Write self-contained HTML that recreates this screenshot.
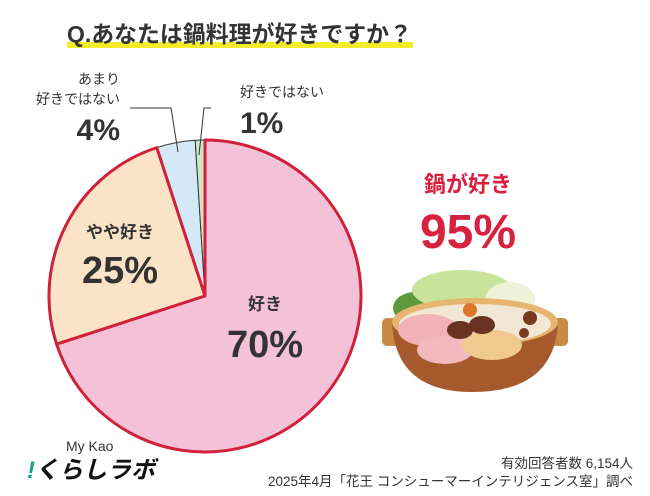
<!DOCTYPE html>
<html><head><meta charset="utf-8"><style>
html,body{margin:0;padding:0;background:#fff;}
body{width:650px;height:496px;overflow:hidden;position:relative;font-family:"Liberation Sans","Noto Sans CJK JP",sans-serif;}
svg{position:absolute;left:0;top:0;}
</style></head><body>
<svg width="650" height="496" viewBox="0 0 650 496">
  <rect x="67" y="42" width="346" height="6" fill="#f3ec2a"/>
  <text x="67" y="42" font-size="23" font-weight="bold" fill="#333" textLength="345" lengthAdjust="spacingAndGlyphs" font-family="Liberation Sans, Noto Sans CJK JP, sans-serif">Q.あなたは鍋料理が好きですか？</text>
  <g id="slices"></g>
  <g id="leaders" stroke="#333" stroke-width="1" fill="none">
    <polyline points="130,108 171,108 178,152"/>
    <polyline points="211,108 204,108 199,155"/>
  </g>
  <g font-family="Liberation Sans, Noto Sans CJK JP, sans-serif" fill="#333" font-weight="bold">
    <text x="120" y="84" font-size="14" text-anchor="end" font-weight="normal">あまり</text>
    <text x="120" y="104" font-size="14" text-anchor="end" font-weight="normal">好きではない</text>
    <text x="120" y="140" font-size="30" text-anchor="end">4%</text>
    <text x="240" y="97" font-size="14" font-weight="normal">好きではない</text>
    <text x="240" y="133" font-size="30">1%</text>
    <text x="120" y="238" font-size="17" text-anchor="middle">やや好き</text>
    <text x="120" y="283" font-size="38" text-anchor="middle">25%</text>
    <text x="265" y="310" font-size="17" text-anchor="middle">好き</text>
    <text x="265" y="357" font-size="38" text-anchor="middle">70%</text>
    <text x="468" y="192" font-size="22" text-anchor="middle" fill="#d8203f">鍋が好き</text>
    <text x="468" y="248" font-size="48" text-anchor="middle" fill="#d8203f">95%</text>
  </g>
  <g>
    <ellipse cx="415" cy="308" rx="22" ry="16" fill="#5d9a3c"/>
    <ellipse cx="462" cy="290" rx="50" ry="20" fill="#c9e39a"/>
    <ellipse cx="510" cy="300" rx="25" ry="18" fill="#eef2d8"/>
    <rect x="382" y="318" width="18" height="28" rx="5" fill="#c88a45"/>
    <rect x="550" y="318" width="18" height="28" rx="5" fill="#c88a45"/>
    <path d="M392 322 Q395 392 472 392 Q555 392 558 322 Z" fill="#a65a2e"/>
    <ellipse cx="475" cy="322" rx="83" ry="24" fill="#e6b570"/>
    <ellipse cx="475" cy="324" rx="76" ry="20" fill="#f1e7d4"/>
    <ellipse cx="428" cy="330" rx="30" ry="16" fill="#f2b2b8"/>
    <ellipse cx="445" cy="350" rx="28" ry="14" fill="#f4b9be"/>
    <ellipse cx="492" cy="345" rx="30" ry="15" fill="#f0c98e"/>
    <ellipse cx="460" cy="330" rx="13" ry="9" fill="#6a3220"/>
    <ellipse cx="482" cy="325" rx="13" ry="9" fill="#6a3220"/>
    <circle cx="530" cy="318" r="7" fill="#7a3a20"/>
    <circle cx="524" cy="333" r="5" fill="#7a3a20"/>
    <circle cx="470" cy="310" r="7" fill="#e0762a"/>
  </g>
  <text x="66" y="451" font-size="14" fill="#333">My Kao</text>
  <text x="27" y="478" font-size="24" font-weight="bold" font-style="italic" fill="#111"><tspan fill="#1aa389">!</tspan>くらしラボ</text>
  <text x="633" y="468" font-size="13.5" fill="#333" text-anchor="end">有効回答者数 6,154人</text>
  <text x="633" y="486" font-size="13.5" fill="#333" text-anchor="end">2025年4月「花王 コンシューマーインテリジェンス室」調べ</text>
</svg>
<script>
const categories = ['好き','やや好き','あまり好きではない','好きではない'];
const values = [70, 25, 4, 1];
const fills = ['#f4c2d7','#fbe3c8','#d4e9f8','#cfe8c4'];
const names = ['slice-like','slice-somewhat-like','slice-somewhat-dislike','slice-dislike'];
const cx = 205, cy = 296, r = 156;
const g = document.getElementById('slices');
const total = values.reduce((a,b)=>a+b,0);
function pt(f){const a = f*2*Math.PI - Math.PI/2; return [cx + r*Math.cos(a), cy + r*Math.sin(a)];}
let acc = 0;
values.forEach((v,i)=>{
  const s = acc/total, e = (acc+v)/total; acc += v;
  const p0 = pt(s), p1 = pt(e), large = (e-s) > 0.5 ? 1 : 0;
  const p = document.createElementNS('http://www.w3.org/2000/svg','path');
  p.setAttribute('d', `M${cx},${cy} L${p0[0]},${p0[1]} A${r},${r} 0 ${large} 1 ${p1[0]},${p1[1]} Z`);
  p.setAttribute('fill', fills[i]);
  p.setAttribute('stroke', i < 2 ? '#d0203a' : '#333');
  p.setAttribute('stroke-width', i < 2 ? '3' : '1');
  p.setAttribute('stroke-linejoin', 'round');
  
  
  g.appendChild(p);
});
[1,0].forEach(i=>{ g.appendChild(g.children[i]); });
</script>
</body></html>
